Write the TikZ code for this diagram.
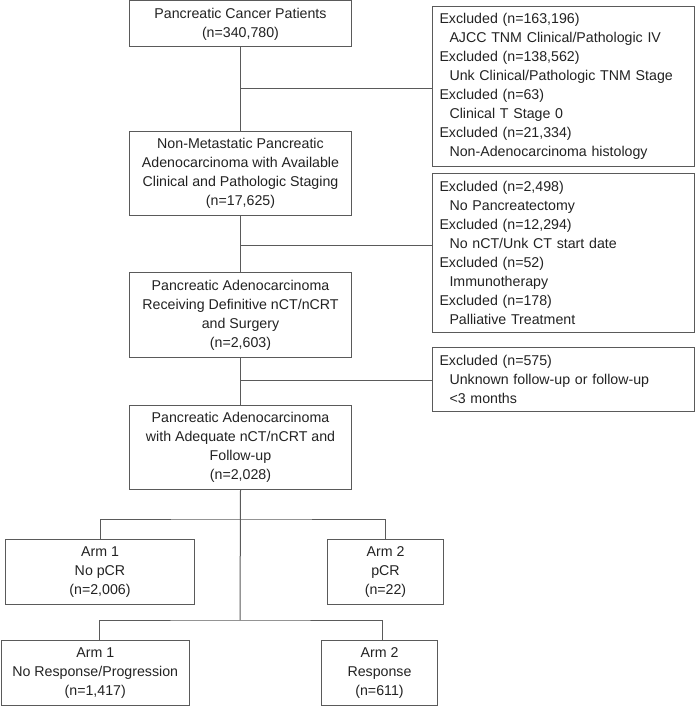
\documentclass[tikz,border=0pt]{standalone}
\usepackage{fontspec}
\setmainfont{Liberation Sans}
\definecolor{edge}{HTML}{5A5A5A}
\definecolor{ink}{HTML}{222222}
\begin{document}
\begin{tikzpicture}[x=1pt,y=-1pt,
  every node/.style={font=\fontsize{14.2}{19}\selectfont, text=ink},
  mbox/.style={draw=edge, line width=1pt, align=center, anchor=north west, inner sep=0pt},
  xbox/.style={draw=edge, line width=1pt, align=left, anchor=north west, inner xsep=7pt, inner ysep=0pt, text width=248pt},
  conn/.style={draw=edge, line width=1pt}]
\useasboundingbox (0,0) rectangle (696,706);
% main column
\node[mbox, minimum width=222pt, minimum height=46pt] (b1) at (129,0.5) {Pancreatic Cancer Patients\\(n=340,780)};
\node[mbox, minimum width=222pt, minimum height=84pt] (b2) at (129,131) {Non-Metastatic Pancreatic\\Adenocarcinoma with Available\\Clinical and Pathologic Staging\\(n=17,625)};
\node[mbox, minimum width=222pt, minimum height=85pt] (b3) at (129,272) {Pancreatic Adenocarcinoma\\Receiving Definitive nCT/nCRT\\and Surgery\\(n=2,603)};
\node[mbox, minimum width=222pt, minimum height=84pt] (b4) at (129,405) {Pancreatic Adenocarcinoma\\with Adequate nCT/nCRT and\\Follow-up\\(n=2,028)};
% exclusion boxes
\node[xbox, minimum height=160pt] (e1) at (432,6) {Excluded (n=163,196)\\\hspace*{10pt}AJCC TNM Clinical/Pathologic IV\\Excluded (n=138,562)\\\hspace*{10pt}Unk Clinical/Pathologic TNM Stage\\Excluded (n=63)\\\hspace*{10pt}Clinical T Stage 0\\Excluded (n=21,334)\\\hspace*{10pt}Non-Adenocarcinoma histology};
\node[xbox, minimum height=159pt] (e2) at (432,173) {Excluded (n=2,498)\\\hspace*{10pt}No Pancreatectomy\\Excluded (n=12,294)\\\hspace*{10pt}No nCT/Unk CT start date\\Excluded (n=52)\\\hspace*{10pt}Immunotherapy\\Excluded (n=178)\\\hspace*{10pt}Palliative Treatment};
\node[xbox, minimum height=64pt] (e3) at (432,347) {Excluded (n=575)\\\hspace*{10pt}Unknown follow-up or follow-up\\\hspace*{10pt}<3 months};
% arms
\node[mbox, minimum width=189pt, minimum height=65pt] (a1) at (5,539) {Arm 1\\No pCR\\(n=2,006)};
\node[mbox, minimum width=116pt, minimum height=65pt] (a2) at (327,539) {Arm 2\\pCR\\(n=22)};
\node[mbox, minimum width=188.5pt, minimum height=65pt] (c1) at (0.5,640) {Arm 1\\No Response/Progression\\(n=1,417)};
\node[mbox, minimum width=116pt, minimum height=65pt] (c2) at (321,640) {Arm 2\\Response\\(n=611)};
% junctions
\coordinate (j1) at (240,89);
\coordinate (j2) at (240,245);
\coordinate (j3) at (240,380);
\coordinate (j4) at (240,519);
\coordinate (j5) at (240,620);
% connectors
\draw[conn] (b1.south) -- (b2.north);
\draw[conn] (j1) -- (j1 -| e1.west);
\draw[conn] (b2.south) -- (b3.north);
\draw[conn] (j2) -- (j2 -| e2.west);
\draw[conn] (b3.south) -- (b4.north);
\draw[conn] (j3) -- (j3 -| e3.west);
\draw[conn] (b4.south) -- (j5);
\draw[conn] (a1.north) |- (j4) -| (a2.north);
\draw[conn] ([xshift=4.5pt]c1.north) |- (j5) -| ([xshift=3pt]c2.north);
\end{tikzpicture}
\end{document}
